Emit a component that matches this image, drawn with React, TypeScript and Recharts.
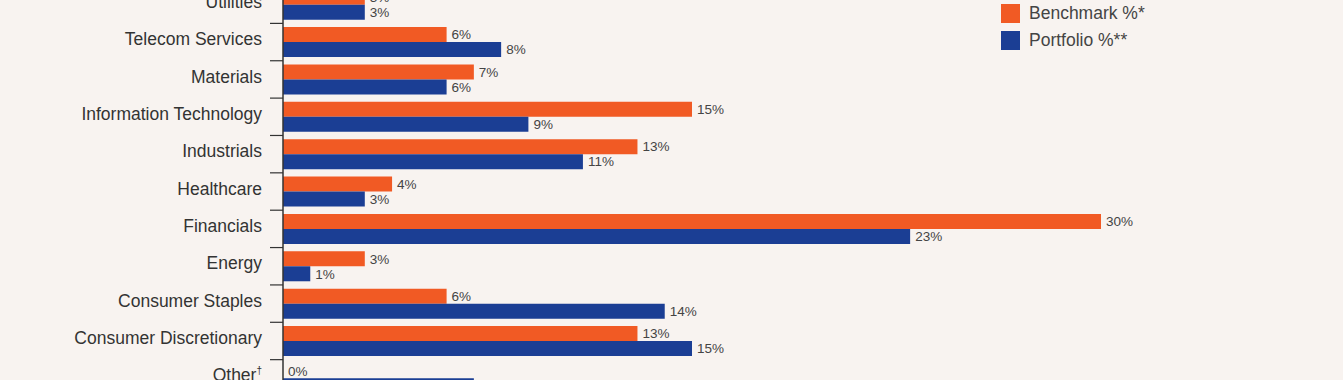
import { BarChart, Bar, XAxis, YAxis, LabelList } from 'recharts'

const categories = [
  'Utilities', 'Telecom Services', 'Materials', 'Information Technology', 'Industrials',
  'Healthcare', 'Financials', 'Energy', 'Consumer Staples', 'Consumer Discretionary', 'Other†',
]
const benchmark = [3, 6, 7, 15, 13, 4, 30, 3, 6, 13, 0]
const portfolio = [3, 8, 6, 9, 11, 3, 23, 1, 14, 15, 7]

const ORANGE = '#F15A24'
const BLUE = '#1B3E94'
const BG = '#F8F3F0'
const FONT = '"Liberation Sans", Arial, Helvetica, sans-serif'

const series = [
  { key: 'benchmark', name: 'Benchmark %*', color: ORANGE },
  { key: 'portfolio', name: 'Portfolio %**', color: BLUE },
]

const data = categories.map((name, i) => ({ name, benchmark: benchmark[i], portfolio: portfolio[i] }))

// half of a category band, used to put tick marks between rows
const HALF_BAND = 18.7

function CategoryTick({ x, y, payload }: any) {
  const label: string = payload.value
  const dagger = label.endsWith('†')
  const text = dagger ? label.slice(0, -1) : label
  return (
    <g>
      <line x1={x - 13} x2={x} y1={y + HALF_BAND} y2={y + HALF_BAND} stroke="#333" strokeWidth={1.2} />
      <text x={x - 21} y={y - 3} dy="0.35em" textAnchor="end" fontSize={17.5} fill="#333" fontFamily={FONT}>
        {text}
        {dagger && <tspan fontSize={10} dy="-0.7em">†</tspan>}
      </text>
    </g>
  )
}

export default function App() {
  return (
    <div style={{ position: 'fixed', left: 0, top: 0, width: 1343, height: 380, overflow: 'hidden', background: BG }}>
      <div style={{ position: 'absolute', left: 0, top: -14 }}>
        <BarChart
          width={1343}
          height={411}
          data={data}
          layout="vertical"
          margin={{ top: 0, right: 242, bottom: 0, left: 0 }}
          barCategoryGap="10%"
          barGap={0}
        >
          <XAxis type="number" domain={[0, 30]} allowDataOverflow hide />
          <YAxis
            type="category"
            dataKey="name"
            width={283}
            axisLine={{ stroke: '#333', strokeWidth: 1.5 }}
            tickLine={false}
            tickSize={0}
            tickMargin={0}
            interval={0}
            tick={<CategoryTick />}
          />
          {series.map(s => (
            <Bar key={s.key} dataKey={s.key} name={s.name} fill={s.color} minPointSize={0.01} isAnimationActive={false}>
              <LabelList
                dataKey={s.key}
                position="right"
                offset={5}
                formatter={(v: any) => `${v}%`}
                fill="#444"
                fontSize={13.5}
                fontFamily={FONT}
              />
            </Bar>
          ))}
        </BarChart>
      </div>

      <div style={{ position: 'absolute', left: 1001, top: 4, fontFamily: FONT }}>
        {series.map(s => (
          <div key={s.key} style={{ display: 'flex', alignItems: 'center', height: 19, marginBottom: 8 }}>
            <div style={{ width: 19, height: 19, background: s.color }} />
            <span style={{ marginLeft: 9, fontSize: 17.5, color: '#444' }}>{s.name}</span>
          </div>
        ))}
      </div>
    </div>
  )
}
